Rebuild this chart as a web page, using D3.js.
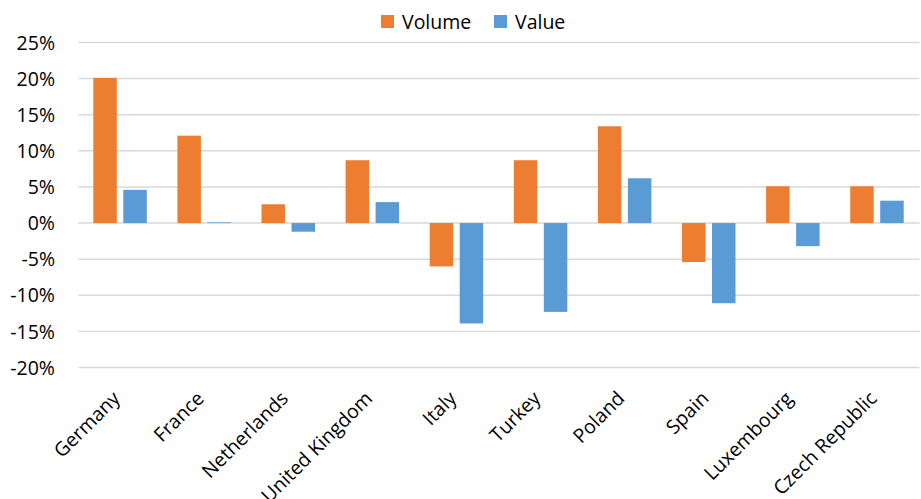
<!DOCTYPE html>
<html>
<head>
<meta charset="utf-8">
<script src="https://cdn.jsdelivr.net/npm/d3@7"></script>
<style>
  body { margin: 0; background: #fff; }
  svg { display: block; font-family: "Open Sans", "Noto Sans", sans-serif; }
</style>
</head>
<body>
<div id="chart"></div>
<script>
// Chart data
const countries = ['Germany', 'France', 'Netherlands', 'United Kingdom', 'Italy',
                   'Turkey', 'Poland', 'Spain', 'Luxembourg', 'Czech Republic'];
const seriesNames = ['Volume', 'Value'];
const volumeValues = [20.1, 12.1, 2.6, 8.7, -6.0, 8.7, 13.4, -5.4, 5.1, 5.1];
const valueValues = [4.6, 0.1, -1.2, 2.9, -13.9, -12.3, 6.2, -11.1, -3.2, 3.1];
const yTicks = [-20, -15, -10, -5, 0, 5, 10, 15, 20, 25];
const colors = ['#ED7D31', '#5B9BD5'];

const width = 921, height = 499;
const fontSize = 19.5;

const svg = d3.select('#chart')
    .append('svg')
    .attr('width', width)
    .attr('height', height);

const x = d3.scaleBand()
    .domain(countries)
    .range([78.5, 919.5])
    .padding(0);

// inner scale places the two bars inside each country band
const xInner = d3.scaleBand()
    .domain(seriesNames)
    .range([14.8, 68.3])
    .paddingInner(0.217);

const y = d3.scaleLinear()
    .domain([-20, 25])
    .range([367.5, 42.5]);

const color = d3.scaleOrdinal().domain(seriesNames).range(colors);

// gridlines
svg.append('g')
    .selectAll('line')
    .data(yTicks)
    .enter()
    .append('line')
    .attr('x1', 78.5)
    .attr('x2', 919.5)
    .attr('y1', d => y(d))
    .attr('y2', d => y(d))
    .attr('stroke', '#d9d9d9')
    .attr('stroke-width', 1.5);

// y axis labels
const yAxis = d3.axisLeft(y)
    .tickValues(yTicks)
    .tickFormat(d => d + '%')
    .tickSize(0)
    .tickPadding(0);

svg.append('g')
    .attr('transform', 'translate(55,0)')
    .call(yAxis)
    .call(g => g.select('.domain').remove())
    .selectAll('text')
    .attr('font-size', fontSize)
    .attr('font-family', '"Open Sans", "Noto Sans", sans-serif')
    .attr('fill', '#000')
    .attr('dy', '0.34em');

// bars
const rows = countries.map((c, i) => ({
    country: c,
    values: [
        { series: 'Volume', value: volumeValues[i] },
        { series: 'Value', value: valueValues[i] }
    ]
}));

const groups = svg.append('g')
    .selectAll('g')
    .data(rows)
    .enter()
    .append('g')
    .attr('transform', d => `translate(${x(d.country)},0)`);

groups.selectAll('rect')
    .data(d => d.values)
    .enter()
    .append('rect')
    .attr('x', d => xInner(d.series))
    .attr('width', xInner.bandwidth())
    .attr('y', d => y(Math.max(0, d.value)))
    .attr('height', d => Math.abs(y(d.value) - y(0)))
    .attr('fill', d => color(d.series));

// x category labels, rotated
const xAxis = d3.axisBottom(x).tickSize(0).tickPadding(0);

svg.append('g')
    .attr('transform', 'translate(0,390)')
    .call(xAxis)
    .call(g => g.select('.domain').remove())
    .selectAll('text')
    .attr('font-size', fontSize)
    .attr('font-family', '"Open Sans", "Noto Sans", sans-serif')
    .attr('fill', '#000')
    .attr('text-anchor', 'end')
    .attr('dy', '0.7em')
    .attr('transform', 'translate(-9,0) rotate(-45)');

// legend
const legend = svg.append('g');
const legendItems = [
    { name: 'Volume', x: 381 },
    { name: 'Value', x: 494 }
];
legendItems.forEach(item => {
    legend.append('rect')
        .attr('x', item.x)
        .attr('y', 15)
        .attr('width', 13)
        .attr('height', 13)
        .attr('fill', color(item.name));
    legend.append('text')
        .attr('x', item.x + 21)
        .attr('y', 28.5)
        .attr('font-size', fontSize)
        .attr('fill', '#000')
        .text(item.name);
});
</script>
</body>
</html>
